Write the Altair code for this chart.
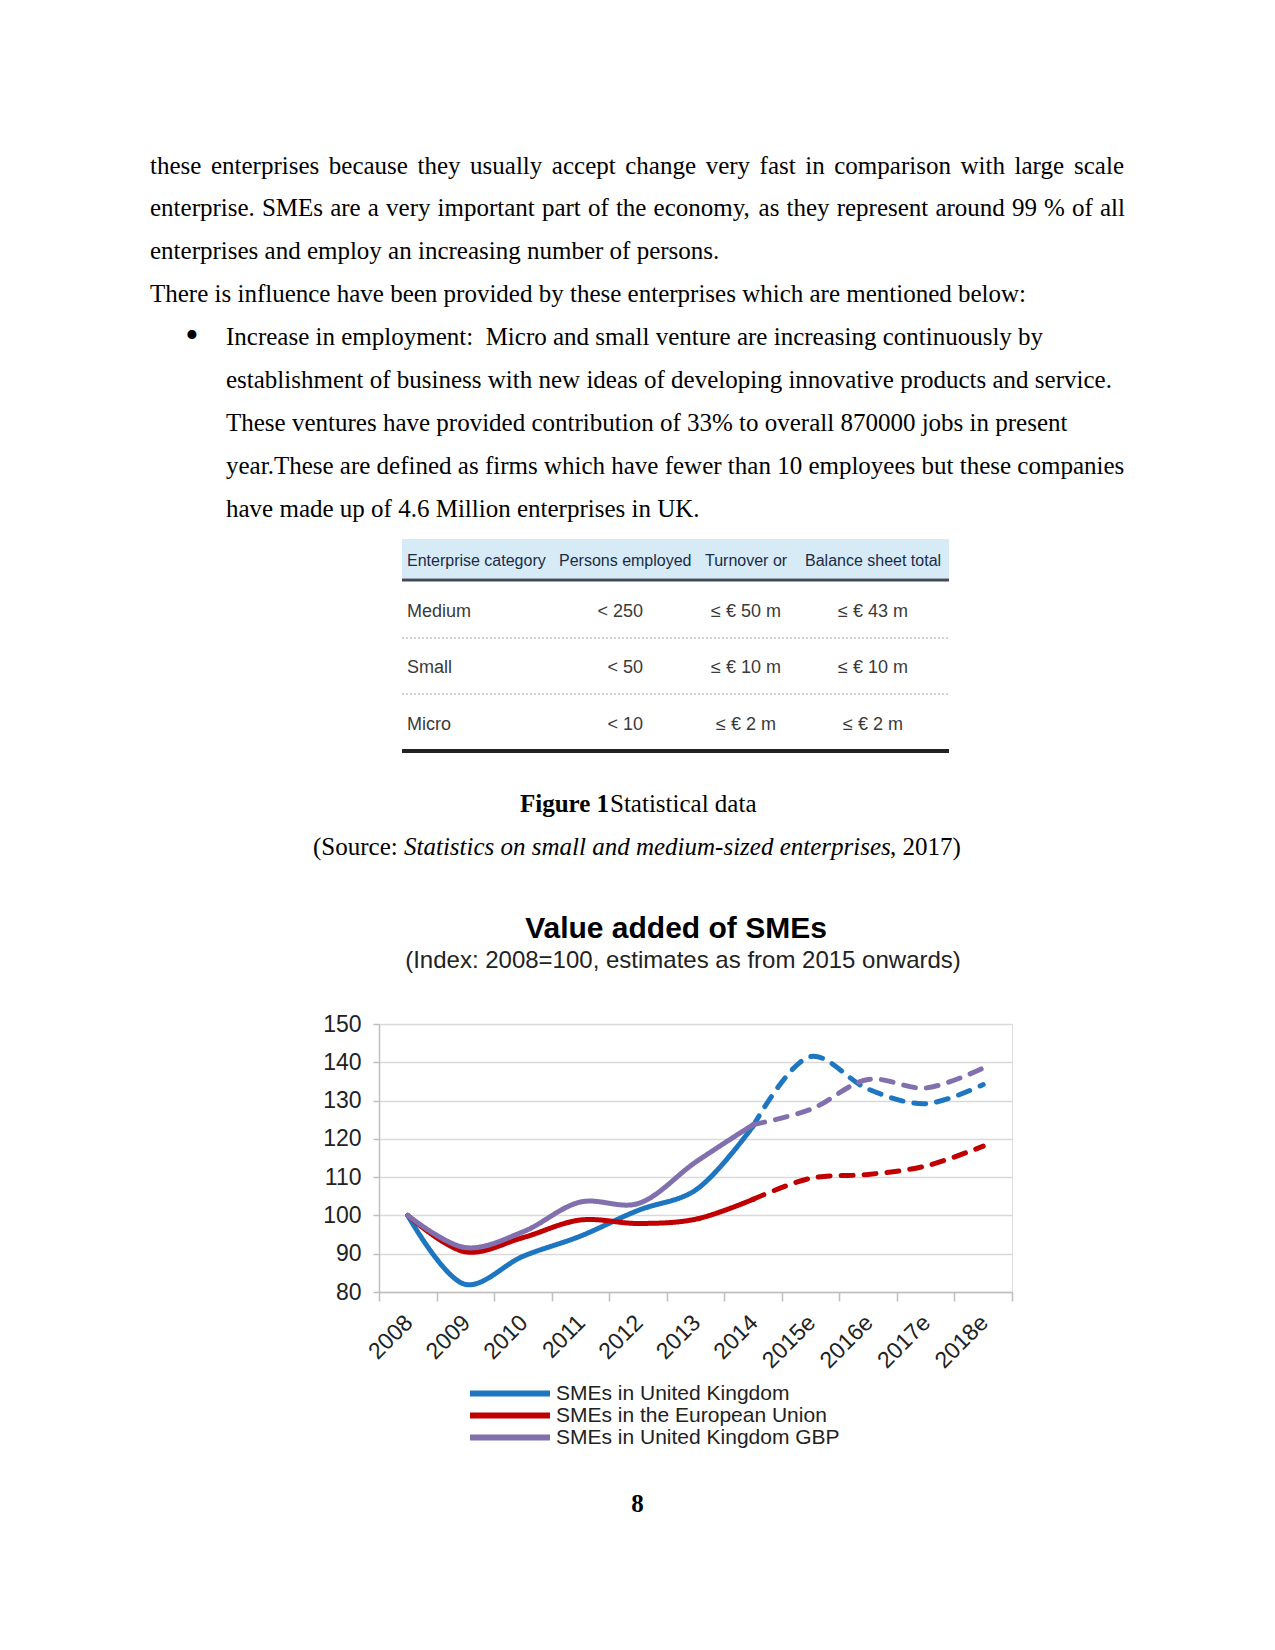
import altair as alt
import pandas as pd

# ---------------- chart data ----------------
years = ["2008", "2009", "2010", "2011", "2012", "2013", "2014", "2015e", "2016e", "2017e", "2018e"]
uk = [100, 82.0, 89.3, 94.6, 101.3, 106.6, 123.3, 141.5, 133.0, 129.2, 134.2]
eu = [100, 90.5, 94.2, 98.8, 97.9, 99.0, 104.2, 109.7, 110.7, 112.9, 118.1]
gbp = [100, 91.6, 95.7, 103.5, 103.1, 113.9, 123.7, 127.7, 135.5, 133.3, 138.5]
series_names = ["SMEs in United Kingdom", "SMEs in the European Union", "SMEs in United Kingdom GBP"]
series_colors = ["#1F76C0", "#C00000", "#8270AE"]
last_actual = "2014"
y_ticks = [80, 90, 100, 110, 120, 130, 140, 150]

chart_title = "Value added of SMEs"
chart_subtitle = "(Index: 2008=100, estimates as from 2015 onwards)"

# ---------------- document text ----------------
body_lines = [
    "these enterprises because they usually accept change very fast in comparison with large scale",
    "enterprise. SMEs are a very important part of the economy, as they represent around 99 % of all",
    "enterprises and employ an increasing number of persons.",
    "There is influence have been provided by these enterprises which are mentioned below:",
    "Increase in employment:\u00a0 Micro and small venture are increasing continuously by",
    "establishment of business with new ideas of developing innovative products and service.",
    "These ventures have provided contribution of 33% to overall 870000 jobs in present",
    "year.These are defined as firms which have fewer than 10 employees but these companies",
    "have made up of 4.6 Million enterprises in UK.",
]
table_header = ["Enterprise category", "Persons employed", "Turnover or", "Balance sheet total"]
table_cat = ["Medium", "Small", "Micro"]
table_persons = ["< 250", "< 50", "< 10"]
table_turnover = ["≤ € 50 m", "≤ € 10 m", "≤ € 2 m"]
table_balance = ["≤ € 43 m", "≤ € 10 m", "≤ € 2 m"]
fig_label = "Figure 1"
fig_caption = "Statistical data"
src_open = "(Source: "
src_title = "Statistics on small and medium-sized enterprises"
src_close = ", 2017)"
page_no = "8"

# ---------------- layout constants (page pixels) ----------------
OX, OY = 379, 1024          # plot-area origin on the page
PW, PH = 633, 268           # plot-area size
SERIF = "Liberation Serif, Times New Roman, serif"
SANS = "Liberation Sans, Arial, sans-serif"
FS = 25

TIMES = {"a": 444, "b": 500, "c": 444, "d": 500, "e": 444, "f": 333, "g": 500, "h": 500, "i": 278,
         "j": 278, "k": 500, "l": 278, "m": 778, "n": 500, "o": 500, "p": 500, "q": 500, "r": 333,
         "s": 389, "t": 278, "u": 500, "v": 500, "w": 722, "x": 500, "y": 500, "z": 444, ".": 250,
         ",": 250, "S": 556, "M": 889, "E": 611, "%": 833, "9": 500, ":": 278}


def txt(text, x, y, size=FS, font=SERIF, weight="normal", style="normal", align="left",
        baseline="alphabetic", color="#000000"):
    return alt.Chart(pd.DataFrame({"t": [text]})).mark_text(
        font=font, fontSize=size, fontWeight=weight, fontStyle=style, align=align,
        baseline=baseline, color=color
    ).encode(x=alt.value(x - OX), y=alt.value(y - OY), text="t:N")


def rect(x1, x2, y1, y2, color):
    return alt.Chart(pd.DataFrame({"a": [0]})).mark_rect(color=color).encode(
        x=alt.value(x1 - OX), x2=alt.value(x2 - OX), y=alt.value(y1 - OY), y2=alt.value(y2 - OY))


def hrule(x1, x2, y, color, width, dash=None):
    kw = dict(color=color, strokeWidth=width)
    if dash:
        kw["strokeDash"] = dash
    return alt.Chart(pd.DataFrame({"a": [0]})).mark_rule(**kw).encode(
        x=alt.value(x1 - OX), x2=alt.value(x2 - OX), y=alt.value(y - OY))


def justified(line, x_left, x_right, y):
    words = line.split(" ")
    widths = [sum(TIMES.get(c, 500) for c in w) * FS / 1000.0 for w in words]
    gap = (x_right - x_left - sum(widths)) / (len(words) - 1)
    out, x = [], x_left
    for w, wd in zip(words, widths):
        out.append(txt(w, x, y))
        x += wd + gap
    return out


layers = []

# ---------------- line chart ----------------
rows = []
k = years.index(last_actual)
for name, vals in zip(series_names, [uk, eu, gbp]):
    for i, (yr, v) in enumerate(zip(years, vals)):
        if i <= k:
            rows.append(dict(year=yr, value=v, series=name, segment="actual"))
        if i >= k:
            rows.append(dict(year=yr, value=v, series=name, segment="estimate"))
df = pd.DataFrame(rows)

lines = alt.Chart(df).mark_line(strokeWidth=5, interpolate="catmull-rom", strokeCap="round").encode(
    x=alt.X("year:N", sort=years, bandPosition=0.5,
            scale=alt.Scale(type="band", paddingInner=0, paddingOuter=0),
            axis=alt.Axis(title=None, labelAngle=-45, labelFontSize=23, labelFont=SANS,
                          labelColor="#222222", domainColor="#BFBFBF", domainWidth=1.5,
                          tickColor="#BFBFBF", tickWidth=1.5, tickSize=9, tickBand="extent",
                          grid=False, labelPadding=10, labelOffset=-7)),
    y=alt.Y("value:Q", scale=alt.Scale(domain=[80, 150], nice=False, zero=False),
            axis=alt.Axis(title=None, values=y_ticks, labelFontSize=23, labelFont=SANS,
                          labelColor="#222222", gridColor="#D9D9D9", gridWidth=1.5,
                          domainColor="#BFBFBF", domainWidth=1.5, tickColor="#BFBFBF",
                          tickWidth=1.5, tickSize=6, labelPadding=12)),
    color=alt.Color("series:N", sort=series_names,
                    scale=alt.Scale(domain=series_names, range=series_colors),
                    legend=alt.Legend(title=None, orient="none", legendX=88, legendY=359,
                                      direction="vertical", symbolType="stroke", symbolSize=6400,
                                      symbolStrokeWidth=6, labelFontSize=21, labelFont=SANS,
                                      labelColor="#222222", clipHeight=21, labelOffset=3,
                                      labelLimit=600, rowPadding=0, symbolOpacity=1)),
    strokeDash=alt.StrokeDash("segment:N",
                              scale=alt.Scale(domain=["actual", "estimate"], range=[[1, 0], [12, 11]]),
                              legend=None),
    detail="series:N",
)
layers.append(lines)

# chart title
layers.append(txt(chart_title, 676, 938, size=30, font=SANS, weight="bold", align="center"))
layers.append(txt(chart_subtitle, 683, 968, size=24, font=SANS, align="center", color="#222222"))

# ---------------- body text ----------------
base, step = 173.5, 42.95
layers += justified(body_lines[0], 150, 1124, base)
layers += justified(body_lines[1], 150, 1125, base + step)
layers.append(txt(body_lines[2], 150, base + 2 * step))
layers.append(txt(body_lines[3], 150, base + 3 * step))
layers.append(txt("•", 192, base + 4 * step + 3, size=38, align="center"))
for i in range(4, 9):
    layers.append(txt(body_lines[i], 226, base + i * step))

# ---------------- table ----------------
layers.append(rect(402, 949, 539, 578, "#D6EBF5"))
layers.append(hrule(402, 949, 580, "#3D4B5C", 3))
layers.append(hrule(402, 949, 638, "#C4C4C4", 1.5, [2, 2]))
layers.append(hrule(402, 949, 694, "#C4C4C4", 1.5, [2, 2]))
layers.append(hrule(402, 949, 751, "#222222", 4))
hx = [407, 559, 705, 805]
for h, x in zip(table_header, hx):
    layers.append(txt(h, x, 566, size=16, font=SANS, color="#1B2A49"))
row_y = [617, 673, 730]
for c, p, t, b, y in zip(table_cat, table_persons, table_turnover, table_balance, row_y):
    layers.append(txt(c, 407, y, size=18, font=SANS, color="#3A3A3A"))
    layers.append(txt(p, 643, y, size=18, font=SANS, align="right", color="#3A3A3A"))
    layers.append(txt(t, 746, y, size=18, font=SANS, align="center", color="#3A3A3A"))
    layers.append(txt(b, 873, y, size=18, font=SANS, align="center", color="#3A3A3A"))

# ---------------- caption ----------------
layers.append(txt(fig_label, 520, 812, weight="bold"))
layers.append(txt(fig_caption, 610, 812))
layers.append(txt(src_open, 313, 855))
layers.append(txt(src_title, 404, 855, style="italic"))
layers.append(txt(src_close, 890, 855))

# page number
layers.append(txt(page_no, 637.5, 1512, weight="bold", align="center"))

chart = alt.layer(*layers).properties(
    width=PW, height=PH,
    autosize=alt.AutoSizeParams(type="none"),
    padding={"left": OX - 8, "top": OY - 8, "right": 1259 - (OX - 8) - PW, "bottom": 262},
).configure_view(stroke=None).configure(font=SANS)

chart.save("out.html", embed_options={"renderer": "svg", "actions": False})
